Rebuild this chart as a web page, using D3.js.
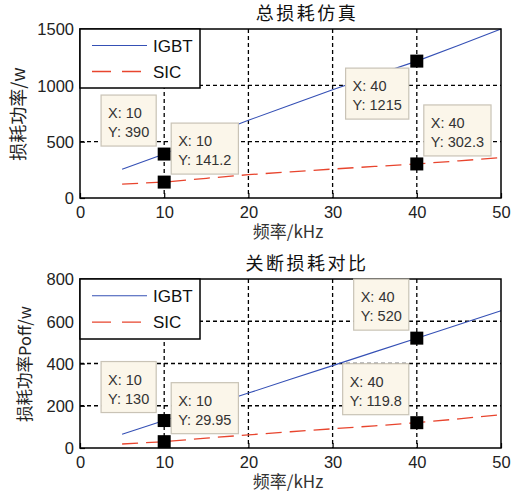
<!DOCTYPE html>
<html>
<head>
<meta charset="utf-8">
<script src="https://cdn.jsdelivr.net/npm/d3@7"></script>
<style>
  body { margin: 0; background: #fff; }
  text { font-family: "Liberation Sans", Arial, "Noto Sans CJK SC", sans-serif; }
  .cjk { font-family: "Noto Sans CJK SC", "Liberation Sans", sans-serif; }
</style>
</head>
<body>
<div id="chart"></div>
<script>
// data
const freq = [5, 10, 15, 20, 25, 30, 35, 40, 45, 50];
const totalIgbt = [255, 390, 545, 690, 825, 960, 1090, 1215, 1355, 1500];
const totalSic = [124, 141.2, 175, 207, 232, 257, 280, 302.3, 330, 358];
const offIgbt = [65, 130, 195, 260, 325, 390, 455, 520, 585, 650];
const offSic = [19, 29.95, 47, 62, 77, 91, 105, 119.8, 138, 158];

const xTicks = [0, 10, 20, 30, 40, 50];
const totalYTicks = [0, 500, 1000, 1500];
const offYTicks = [0, 200, 400, 600, 800];

const seriesNames = ["IGBT", "SIC"];

// data tips: [x, y, text of Y]
const totalTips = [[10, 390, "390"], [10, 141.2, "141.2"], [40, 1215, "1215"], [40, 302.3, "302.3"]];
const offTips = [[10, 130, "130"], [10, 29.95, "29.95"], [40, 520, "520"], [40, 119.8, "119.8"]];
// where the box sits relative to its marker
const totalTipPlace = [["left", "up"], ["right", "up"], ["left", "down"], ["right", "up"]];
const offTipPlace = [["left", "up"], ["right", "up"], ["left", "up"], ["left", "up"]];

const W = 513, H = 500;
const svg = d3.select("#chart").append("svg").attr("width", W).attr("height", H);

function drawPanel(opt) {
  const x = d3.scaleLinear().domain([0, 50]).range([80, 501]);
  const y = d3.scaleLinear().domain(opt.yDomain).range([opt.bottom, opt.top]);
  const g = svg.append("g");

  // grid (dotted)
  g.selectAll(".vgrid").data(xTicks.slice(1, -1)).enter().append("line")
    .attr("x1", d => x(d)).attr("x2", d => x(d))
    .attr("y1", opt.top).attr("y2", opt.bottom)
    .style("stroke", "#000").style("stroke-width", 1.3).style("stroke-dasharray", "4,3");
  g.selectAll(".hgrid").data(opt.yTicks.slice(1, -1)).enter().append("line")
    .attr("x1", 80).attr("x2", 501)
    .attr("y1", d => y(d)).attr("y2", d => y(d))
    .style("stroke", "#000").style("stroke-width", 1.3).style("stroke-dasharray", "4,3");

  // lines
  const line = d3.line().x((d, i) => x(freq[i])).y(d => y(d));
  g.append("path").datum(opt.igbt).attr("d", line)
    .style("fill", "none").style("stroke", "#3550b5").style("stroke-width", 1.1);
  g.append("path").datum(opt.sic).attr("d", line)
    .style("fill", "none").style("stroke", "#e8452e").style("stroke-width", 1.3)
    .style("stroke-dasharray", "16,8");

  // axes with inward ticks
  const xAxis = d3.axisBottom(x).tickValues(xTicks).tickSizeInner(-5).tickSizeOuter(0).tickPadding(8);
  const yAxis = d3.axisLeft(y).tickValues(opt.yTicks).tickFormat(d3.format("d"))
    .tickSizeInner(-5).tickSizeOuter(0).tickPadding(6);
  const xa = g.append("g").attr("transform", `translate(0,${opt.bottom})`).call(xAxis);
  const ya = g.append("g").attr("transform", "translate(80,0)").call(yAxis);
  [xa, ya].forEach(a => {
    a.select(".domain").remove();
    a.selectAll("line").style("stroke", "#000").style("stroke-width", 1.2);
    a.selectAll("text").style("font-size", "16.5px").style("fill", "#222")
      .style("font-family", "'Liberation Sans', Arial, sans-serif");
  });
  ya.selectAll("text").attr("dy", "0.35em");

  // frame
  g.append("rect").attr("x", 80).attr("y", opt.top)
    .attr("width", 421).attr("height", opt.bottom - opt.top)
    .style("fill", "none").style("stroke", "#000").style("stroke-width", 1.5);

  // legend
  const lg = g.append("g").attr("transform", `translate(80,${opt.top})`);
  lg.append("rect").attr("width", 120).attr("height", opt.legendH)
    .style("fill", "#fff").style("stroke", "#000").style("stroke-width", 1.5);
  seriesNames.forEach((name, i) => {
    const ly = opt.legendH * (i === 0 ? 0.28 : 0.72);
    lg.append("line").attr("x1", 12).attr("x2", 67).attr("y1", ly).attr("y2", ly)
      .style("stroke", i === 0 ? "#3550b5" : "#e8452e")
      .style("stroke-width", i === 0 ? 1.1 : 1.3)
      .style("stroke-dasharray", i === 0 ? null : "19,11");
    lg.append("text").attr("x", 73).attr("y", ly).attr("dy", "0.36em")
      .style("font-size", "17px").style("fill", "#111").text(name);
  });

  // data tips
  opt.tips.forEach((t, i) => {
    const px = x(t[0]), py = y(t[1]);
    const place = opt.place[i];
    const tg = g.append("g");
    const box = tg.append("rect").style("fill", "#fbf6ea").style("stroke", "#c9c3b6").style("stroke-width", 1.2);
    const t1 = tg.append("text").attr("x", 7).attr("y", 23)
      .style("font-size", "14.5px").style("fill", "#333").text("X: " + t[0]);
    const t2 = tg.append("text").attr("x", 7).attr("y", 42)
      .style("font-size", "14.5px").style("fill", "#333").text("Y: " + t[2]);
    const tw = Math.max(t1.node().getComputedTextLength(), t2.node().getComputedTextLength()) + 14;
    const th = 51;
    box.attr("width", tw).attr("height", th);
    const bx = place[0] === "left" ? px - 8 - tw : px + 7;
    const by = place[1] === "up" ? py - 8 - th : py + 7;
    tg.attr("transform", `translate(${bx},${by})`);
    g.append("rect").attr("x", px - 6.5).attr("y", py - 6.5)
      .attr("width", 13).attr("height", 13).style("fill", "#000");
  });

  // title and axis labels
  g.append("text").attr("class", "cjk").attr("x", opt.titleX).attr("y", opt.top - 9)
    .attr("text-anchor", "middle").style("font-size", "18px").style("letter-spacing", "2.5px")
    .style("fill", "#111").text(opt.title);
  g.append("text").attr("class", "cjk").attr("x", 288).attr("y", opt.bottom + 40)
    .attr("text-anchor", "middle").style("font-size", "17px").style("fill", "#333")
    .text("频率/kHz");
  g.append("text").attr("class", "cjk")
    .attr("transform", `translate(${opt.ylabX},${opt.ylabY}) rotate(-90)`)
    .attr("text-anchor", "middle").style("font-size", opt.ylabSize).style("fill", "#222")
    .text(opt.ylabel);
}

drawPanel({
  top: 29, bottom: 198, yDomain: [0, 1500], yTicks: totalYTicks,
  igbt: totalIgbt, sic: totalSic, legendH: 59,
  tips: totalTips, place: totalTipPlace,
  title: "总损耗仿真", titleX: 307, ylabel: "损耗功率/w", ylabSize: "18px", ylabX: 25, ylabY: 114
});
drawPanel({
  top: 279, bottom: 448, yDomain: [0, 800], yTicks: offYTicks,
  igbt: offIgbt, sic: offSic, legendH: 60,
  tips: offTips, place: offTipPlace,
  title: "关断损耗对比", titleX: 307, ylabel: "损耗功率Poff/w", ylabSize: "16.5px", ylabX: 31, ylabY: 364
});
</script>
</body>
</html>
